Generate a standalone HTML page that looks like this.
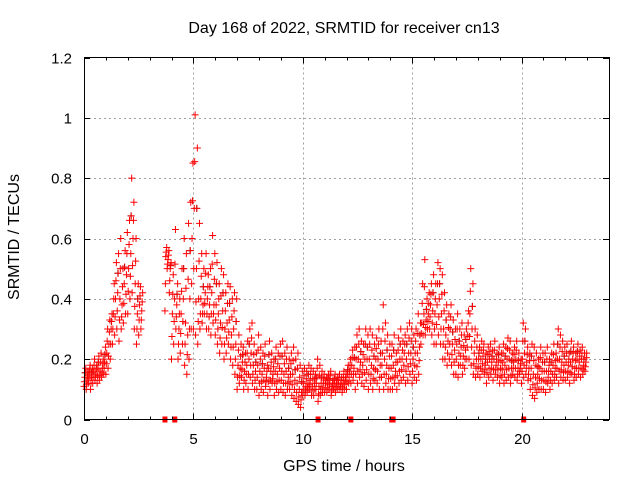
<!DOCTYPE html>
<html><head><meta charset="utf-8"><style>
body{margin:0;background:#fff}
svg{display:block;font-family:"Liberation Sans",sans-serif}
</style></head><body>
<svg id="c" width="640" height="480" xmlns="http://www.w3.org/2000/svg">
<rect width="640" height="480" fill="#fff"/>
<g id="grid"></g>
<g id="blk"></g>
<g id="red"></g>
<g id="axes"></g>
<text x="344" y="33" text-anchor="middle" font-size="16">Day 168 of 2022, SRMTID for receiver cn13</text>
<text x="344" y="471" text-anchor="middle" font-size="16">GPS time / hours</text>
<text x="19" y="237" text-anchor="middle" font-size="16" transform="rotate(-90 19 237)">SRMTID / TECUs</text>
</svg>
<script>
const xTicks=[0,5,10,15,20];
const yTicks=[0,0.2,0.4,0.6,0.8,1,1.2];
const yTickLabels=["0","0.2","0.4","0.6","0.8","1","1.2"];
const slotHours=0.1;
const N=null;
const hiVals=[.17,.16,.18,.17,.2,.18,.21,.22,.2,.24,
.3,.33,.35,.45,.52,.55,.6,.5,.56,.62,
.66,.8,.72,.6,.45,.44,.42,N,N,N,
N,N,N,N,N,N,N,.57,.56,.52,
.48,.63,.45,.4,.5,.6,.55,.65,.72,.85,
1.01,.9,.65,.55,.5,.55,.48,.5,.61,.55,
.52,.45,.5,.48,.42,.45,.44,.4,.42,.4,
.28,.25,.24,.22,.26,.3,.32,.25,.22,.28,
.24,.22,.25,.18,.26,.22,.2,.24,.22,.25,
.26,.22,.24,.2,.22,.24,.2,.22,.18,.16,
.17,.16,.18,.17,.16,.15,.2,.18,.16,.15,
.14,.15,.16,.13,.15,.14,.15,.14,.16,.15,
.18,.2,.23,.24,.28,.3,.26,.25,.3,.28,
.3,.28,.25,.27,.3,.26,.38,.32,.28,.25,
.25,.28,.22,.27,.3,.26,.28,.3,.32,.3,
.28,.3,.35,.32,.45,.53,.4,.42,.45,.48,
.45,.52,.5,.48,.42,.38,.35,.38,.33,.3,
.35,.3,.32,.28,.3,.36,.5,.45,.3,.28,
.24,.26,.25,.22,.24,.25,.23,.26,.22,.24,
.22,.25,.24,.27,.26,.22,.24,.26,.22,.2,
.32,.3,.24,.22,.25,.24,.22,.2,.24,.22,
.22,.24,.2,.22,.25,.22,.3,.28,.26,.24,
.25,.22,.26,.24,.22,.25,.23,.24,.22,.22];
const loVals=[.11,.1,.12,.1,.12,.13,.12,.13,.14,.15,
.15,.17,.2,.25,.28,.3,.26,.3,.32,.35,
.35,.4,.42,.3,.25,.28,.3,N,N,N,
N,N,N,N,N,N,N,.36,.5,.42,
.2,.25,.3,.2,.22,.25,.18,.15,.2,.3,
.3,.28,.25,.3,.32,.35,.3,.3,.28,.32,
.28,.25,.22,.25,.2,.22,.25,.2,.18,.15,
.1,.12,.14,.1,.12,.1,.14,.12,.1,.1,
.08,.1,.09,.11,.08,.1,.12,.08,.1,.09,
.1,.09,.08,.1,.1,.08,.07,.06,.05,.04,
.08,.08,.09,.1,.08,.08,.1,.06,.08,.09,
.09,.09,.1,.08,.1,.09,.1,.1,.09,.1,
.1,.12,.12,.13,.1,.12,.14,.12,.11,.13,
.1,.12,.1,.13,.12,.1,.14,.1,.12,.1,
.1,.1,.12,.1,.12,.13,.14,.12,.13,.15,
.12,.14,.13,.15,.25,.28,.28,.3,.3,.28,
.25,.25,.28,.25,.2,.2,.18,.2,.18,.15,
.15,.14,.18,.15,.17,.2,.2,.18,.15,.14,
.15,.14,.16,.15,.12,.14,.15,.13,.15,.14,
.12,.14,.12,.13,.14,.12,.15,.14,.13,.15,
.12,.14,.15,.13,.1,.08,.07,.09,.1,.1,
.1,.09,.12,.1,.12,.13,.14,.12,.14,.13,
.13,.14,.12,.15,.13,.14,.15,.14,.15,.16];
const midVals=[.14,.13,.15,.14,.16,.15,.17,.16,.17,.19,
.22,.25,.3,.35,.4,.42,.4,.38,.45,.48,
.5,.55,.6,.45,.35,.38,.36,N,N,N,
N,N,N,N,N,N,N,.54,.53,.5,
.35,.4,.38,.3,.35,.4,.32,.28,.4,.6,
.7,.5,.4,.4,.38,.42,.4,.38,.42,.38,
.38,.35,.32,.36,.3,.32,.33,.28,.3,.25,
.18,.17,.19,.16,.18,.2,.22,.18,.16,.18,
.16,.15,.17,.14,.17,.16,.15,.16,.15,.17,
.16,.15,.16,.14,.15,.15,.13,.12,.1,.09,
.12,.11,.12,.13,.11,.12,.14,.11,.12,.12,
.12,.12,.13,.11,.12,.12,.13,.12,.12,.13,
.15,.16,.18,.17,.2,.2,.19,.18,.2,.2,
.2,.18,.17,.2,.2,.18,.22,.2,.18,.17,
.17,.18,.16,.19,.2,.2,.22,.2,.22,.22,
.2,.22,.22,.24,.32,.35,.33,.35,.38,.36,
.35,.38,.4,.35,.3,.28,.26,.3,.25,.23,
.25,.22,.24,.21,.23,.28,.35,.3,.22,.2,
.2,.2,.21,.18,.19,.2,.19,.2,.18,.19,
.17,.19,.18,.2,.2,.17,.19,.2,.17,.17,
.2,.22,.19,.17,.17,.15,.14,.15,.17,.16,
.16,.16,.16,.16,.18,.17,.2,.2,.19,.18,
.19,.18,.19,.2,.17,.2,.19,.2,.18,.19];
const gapTimes=[3.7,4.15,10.7,12.2,14.07,14.13,20.1];

const X0=84,X1=609,Y0=419.5,Y1=57.5,XMAX=24,YMAX=1.2;
const sx=v=>X0+(X1-X0)*v/XMAX;
const sy=v=>Y0-(Y0-Y1)*v/YMAX;
const NS="http://www.w3.org/2000/svg";
function mk(tag,attrs,parent){const e=document.createElementNS(NS,tag);for(const k in attrs)e.setAttribute(k,attrs[k]);parent.appendChild(e);return e;}
const grid=document.getElementById('grid'),axes=document.getElementById('axes');
xTicks.forEach((t,i)=>{
  const x=Math.round(sx(t))+0.5;
  if(t>0){const g=mk('line',{x1:x,x2:x,y1:Y1,y2:Y0,stroke:'#a0a0a0','stroke-dasharray':'2,3'},grid);
  
  }
  mk('line',{x1:x,x2:x,y1:Y0,y2:Y0-6,stroke:'#000'},axes);
  mk('line',{x1:x,x2:x,y1:Y1,y2:Y1+6,stroke:'#000'},axes);
  const l=mk('text',{x:x,y:444,'text-anchor':'middle','font-size':'15'},axes);
  l.textContent=String(t);
  
  
});
yTicks.forEach((t,i)=>{
  const y=Math.round(sy(t))+0.5;
  if(t>0&&t<YMAX){const g=mk('line',{x1:X0,x2:X1,y1:y,y2:y,stroke:'#a0a0a0','stroke-dasharray':'2,3'},grid);
  
  }
  mk('line',{x1:X0,x2:X0+6,y1:y,y2:y,stroke:'#000'},axes);
  mk('line',{x1:X1,x2:X1-6,y1:y,y2:y,stroke:'#000'},axes);
  const l=mk('text',{x:72,y:y+5,'text-anchor':'end','font-size':'15'},axes);
  l.textContent=yTickLabels[i];
  
  
});
for(let t=1;t<XMAX;t++){if(t%5){const x=Math.round(sx(t))+0.5;mk('line',{x1:x,x2:x,y1:Y0,y2:Y0-3,stroke:'#000'},axes);mk('line',{x1:x,x2:x,y1:Y1,y2:Y1+3,stroke:'#000'},axes);}}
const fr=mk('rect',{x:X0+0.5,y:Y1,width:X1-X0,height:Y0-Y1,fill:'none',stroke:'#000'},axes);


function plus(g,t,v,col){
  const x=sx(t),y=sy(v);
  const p=mk('path',{d:`M${x-3.5} ${y}H${x+3.5}M${x} ${y-3.5}V${y+3.5}`,stroke:col,'stroke-width':'1',fill:'none'},g);
  
  
}
const blk=document.getElementById('blk'),red=document.getElementById('red');
hiVals.forEach((h,i)=>{
  if(h==null)return;
  const t=i*slotHours,lo=loVals[i],md=midVals[i];
  if(i%3===0)plus(blk,t+0.05,(md+h)/2,'#333');
  [lo,(lo+md)/2,md,(md+h)/2,h].forEach((v,k)=>plus(red,t+k*0.02,v,'#ff0000'));
});
gapTimes.forEach(t=>{
  const r=mk('rect',{x:sx(t)-2.5,y:Y0-3,width:5,height:6,fill:'#ff0000'},red);
  
  
});
</script>
</body></html>
